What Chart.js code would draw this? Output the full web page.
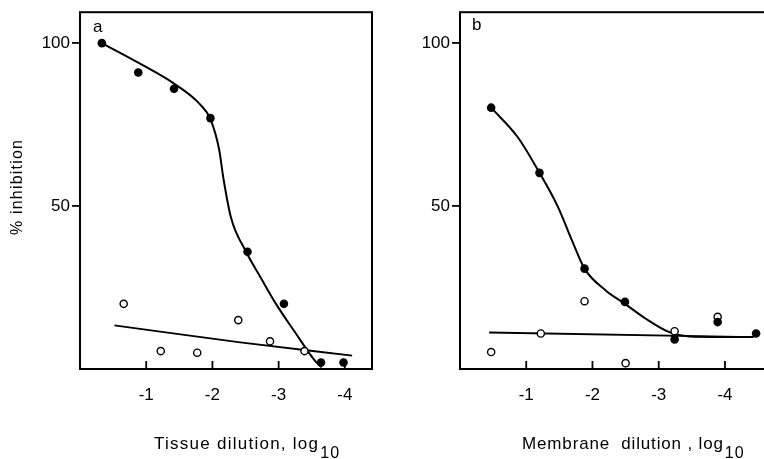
<!DOCTYPE html>
<html>
<head>
<meta charset="utf-8">
<script src="https://cdn.jsdelivr.net/npm/chart.js@4"></script>
<style>
  html, body { margin: 0; padding: 0; background: #fff; overflow: hidden; }
  body { width: 764px; height: 459px; position: relative; }
  canvas { position: absolute; top: 0; }
  #graficoA { left: 0; }
  #graficoB { left: 380px; }
</style>
</head>
<body>
<canvas id="graficoA" width="380" height="459"></canvas>
<canvas id="graficoB" width="400" height="459"></canvas>
<script>
// panel a: tissue dilution
const tejidoX = [-0.33, -0.88, -1.42, -1.97, -2.53, -3.08, -3.64, -3.98];
const tejidoY = [100, 91, 86, 77, 36, 20, 2, 2];
const tejidoCtrlX = [-0.66, -1.22, -1.77, -2.39, -2.87, -3.39];
const tejidoCtrlY = [20, 5.5, 5, 15, 8.5, 5.5];
const tejidoCurvaX = [-0.33, -0.88, -1.42, -1.81, -1.97, -2.1, -2.17, -2.28, -2.51, -2.73, -2.95, -3.25, -3.55, -3.65];
const tejidoCurvaY = [100, 94, 87.6, 81.3, 76.7, 67.5, 58, 46.5, 35.9, 28, 20.3, 11.2, 2.5, 0.5];
const tejidoRectaX = [-0.52, -2.42, -4.11];
const tejidoRectaY = [13.4, 8.2, 4.1];

// panel b: membrane dilution
const membranaX = [-0.47, -1.2, -1.88, -2.49, -3.24, -3.89, -4.47];
const membranaY = [80.2, 60.2, 30.8, 20.6, 9.1, 14.4, 10.9];
const membranaCtrlX = [-0.47, -1.22, -1.88, -2.5, -3.24, -3.89];
const membranaCtrlY = [5.2, 10.9, 20.8, 1.8, 11.6, 16];
const membranaCurvaX = [-0.47, -0.87, -1.2, -1.48, -1.69, -1.88, -2.2, -2.49, -2.8, -3.16, -3.46, -4.43];
const membranaCurvaY = [80.2, 71.2, 60.2, 49.7, 39.5, 30.8, 24.1, 20, 15.5, 11.3, 10, 9.8];
const membranaRectaX = [-0.44, -4.43];
const membranaRectaY = [11.2, 9.8];

const ticksX = [-1, -2, -3, -4];
const ticksY = [50, 100];

const FUENTE = '"Liberation Sans", Arial, Helvetica, sans-serif';
Chart.defaults.font.family = FUENTE;
Chart.defaults.font.size = 17;
Chart.defaults.color = '#000';

function puntos(xs, ys) {
    return xs.map((x, i) => ({ x: x, y: ys[i] }));
}

// draws frame, inward x ticks, panel letter and axis titles
const decorado = {
    id: 'decorado',
    beforeDatasetsDraw(chart, args, o) {
        const { ctx, chartArea: a, scales: { x } } = chart;
        ctx.save();
        ctx.strokeStyle = '#000';
        ctx.lineWidth = 2;
        ctx.strokeRect(a.left, a.top, a.right - a.left, a.bottom - a.top);
        ctx.lineWidth = 1.8;
        x.ticks.forEach(t => {
            const px = x.getPixelForValue(t.value);
            ctx.beginPath();
            ctx.moveTo(px, a.bottom);
            ctx.lineTo(px, a.bottom - 8);
            ctx.stroke();
        });
        ctx.restore();
    },
    afterDraw(chart, args, o) {
        const { ctx, chartArea: a } = chart;
        ctx.save();
        ctx.fillStyle = '#000';
        ctx.font = '17px ' + FUENTE;
        ctx.textBaseline = 'alphabetic';
        ctx.fillText(o.letra, a.left + o.letraDx, a.top + o.letraDy);

        ctx.letterSpacing = '0px';
        const w0 = ctx.measureText(o.titulo).width;
        const esp = (o.tituloAncho - w0) / (o.titulo.length - 1);
        ctx.letterSpacing = esp + 'px';
        ctx.fillText(o.titulo, o.tituloX, 449);
        const w = ctx.measureText(o.titulo).width;
        ctx.font = '16px ' + FUENTE;
        ctx.letterSpacing = '1px';
        ctx.fillText('10', o.tituloX + w + 1, 458);

        if (o.tituloY) {
            ctx.letterSpacing = '0px';
            const wy0 = ctx.measureText(o.tituloY).width;
            ctx.letterSpacing = ((95 - wy0) / (o.tituloY.length - 1)) + 'px';
            ctx.translate(18, 187);
            ctx.rotate(-Math.PI / 2);
            ctx.textAlign = 'center';
            ctx.textBaseline = 'middle';
            ctx.fillText(o.tituloY, 0, 0);
        }
        ctx.restore();
    }
};

function crearGrafico(id, cfg) {
    const ctx = document.getElementById(id).getContext('2d');
    return new Chart(ctx, {
        type: 'scatter',
        data: {
            datasets: [
                {
                    data: puntos(cfg.px, cfg.py),
                    pointRadius: 4.3,
                    backgroundColor: '#000',
                    borderColor: '#000',
                    borderWidth: 0,
                    showLine: false,
                    order: 0
                },
                {
                    data: puntos(cfg.cx, cfg.cy),
                    pointRadius: 3.6,
                    backgroundColor: '#fff',
                    borderColor: '#000',
                    borderWidth: 1.4,
                    showLine: false,
                    order: 0
                },
                {
                    data: puntos(cfg.fx, cfg.fy),
                    showLine: true,
                    pointRadius: 0,
                    borderColor: '#000',
                    borderWidth: 2,
                    cubicInterpolationMode: 'monotone',
                    order: 1
                },
                {
                    data: puntos(cfg.rx, cfg.ry),
                    showLine: true,
                    pointRadius: 0,
                    borderColor: '#000',
                    borderWidth: 1.8,
                    cubicInterpolationMode: 'monotone',
                    order: 1
                }
            ]
        },
        options: {
            responsive: false,
            animation: false,
            events: [],
            layout: { padding: { top: 10, right: cfg.derecha, left: 0, bottom: 0 } },
            plugins: {
                legend: { display: false },
                tooltip: { enabled: false },
                decorado: cfg.deco
            },
            scales: {
                x: {
                    type: 'linear',
                    reverse: true,
                    min: cfg.xMin,
                    max: 0,
                    afterBuildTicks: s => { s.ticks = ticksX.map(v => ({ value: v })); },
                    afterFit: s => { s.height = 90; },
                    grid: { display: false, drawTicks: false },
                    border: { display: false },
                    ticks: { padding: 16, color: '#000', font: { size: 17 }, callback: v => String(v) }
                },
                y: {
                    min: 0,
                    max: 109.5,
                    afterBuildTicks: s => { s.ticks = ticksY.map(v => ({ value: v })); },
                    afterFit: s => { s.width = 80; },
                    grid: { drawOnChartArea: false, drawTicks: true, tickLength: 8, color: '#000', lineWidth: 1.8 },
                    border: { display: false },
                    ticks: { padding: 2, color: '#000', font: { size: 17 } }
                }
            }
        },
        plugins: [decorado]
    });
}

crearGrafico('graficoA', {
    px: tejidoX, py: tejidoY,
    cx: tejidoCtrlX, cy: tejidoCtrlY,
    fx: tejidoCurvaX, fy: tejidoCurvaY,
    rx: tejidoRectaX, ry: tejidoRectaY,
    xMin: -4.41,
    derecha: 8,
    deco: {
        letra: 'a', letraDx: 13, letraDy: 20,
        titulo: 'Tissue dilution, log', tituloX: 154, tituloAncho: 164,
        tituloY: '% inhibition'
    }
});

crearGrafico('graficoB', {
    px: membranaX, py: membranaY,
    cx: membranaCtrlX, cy: membranaCtrlY,
    fx: membranaCurvaX, fy: membranaCurvaY,
    rx: membranaRectaX, ry: membranaRectaY,
    xMin: -4.68,
    derecha: 10,
    deco: {
        letra: 'b', letraDx: 12, letraDy: 18,
        titulo: 'Membrane  dilution , log', tituloX: 142, tituloAncho: 201,
        tituloY: null
    }
});
</script>
</body>
</html>
